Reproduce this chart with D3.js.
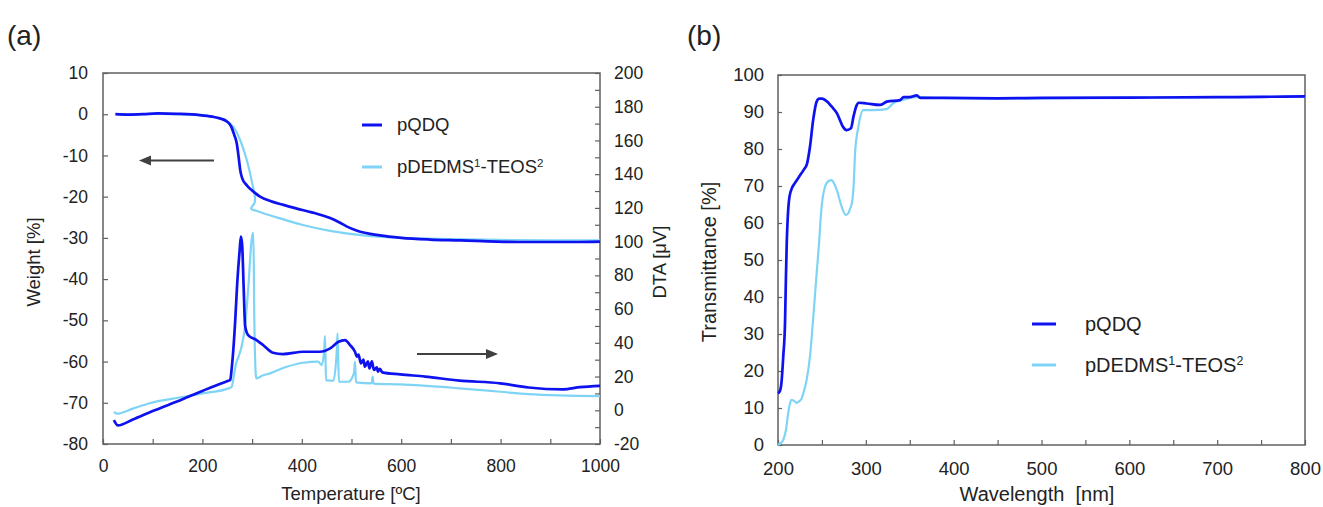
<!DOCTYPE html>
<html><head><meta charset="utf-8">
<script src="https://cdn.jsdelivr.net/npm/d3@7"></script>
<style>
html,body{margin:0;padding:0;background:#fff;}
svg{display:block;font-family:"Liberation Sans",Arial,sans-serif;}
</style></head>
<body>
<svg id="c" width="1323" height="507"></svg>
<script>
// ---------- DATA ----------
const seriesNames = ["pQDQ", "pDEDMS"];
// (a) TGA weight curves
const tgaTempQ   = [25,50,80,110,150,195,220,235,250,258,264,269,273,276,280,289,300,316,340,363,390,420,457,475,490,510,557,600,658,720,792,850,900,950,1000];
const tgaWeightQ = [0,-0.1,0,0.2,0.1,-0.2,-0.6,-1,-1.8,-3,-5,-7,-10.5,-13.5,-15.5,-17.2,-18.5,-20,-21.2,-22,-22.9,-23.8,-25.2,-26.2,-27.2,-28.2,-29.4,-30,-30.4,-30.6,-30.9,-31,-31,-31,-30.9];
const tgaTempD   = [25,80,110,150,200,230,250,262,275,289,299,304,306,305,298,310,324,360,400,457,524,600,700,800,900,1000];
const tgaWeightD = [0,0,0.1,0,-0.3,-0.8,-1.8,-3,-6,-11,-16,-19,-20.5,-21.5,-22.9,-23.5,-24.1,-25.4,-26.8,-28.3,-29.4,-30,-30.3,-30.5,-30.6,-30.6];
// (a) DTA curves
const dtaTempQ = [22,30,60,100,160,200,239,252,256,259,262,266,270,275,277.5,280,283,286,292,309,322,342,362,403,436,457,474,487,497,507,511,514,519,524,527,533,536,541,545,551,553,557,562,598,648,717,799,856,925,960,1000];
const dtaQ     = [-5.8,-9,-5.5,-0.5,6.5,11.5,16,17.5,18,25,35,53,75,95,103,98,73,50,44.6,41.6,38.7,34.1,33.3,34.7,34.7,36.7,40.6,41.6,38.7,34.7,31.8,33,27.8,30,25.8,29,24.8,29,23.9,25.5,22.9,24.5,22.5,21.3,20,17.6,16,13.5,12.4,13.7,14.5];
const dtaTempD = [22,28,60,94,163,200,253,259,263,268,273,279,285.7,292.4,299,302.5,304.5,307.8,309,320,336,369.6,403,433,440,445,446.7,448.7,463.4,470.5,472,474.6,493.6,505,507,509,540.6,542.6,544.5,598,717,799,856,1000];
const dtaD     = [-1,-2,1,4.2,8,10,13,14,20,28,32,38,49.6,73,101,105.3,53.5,20,18.9,20.5,21.9,25.8,28.2,28.8,26.8,35,44,17.9,17.5,36,45.6,16.9,16.9,22,28.8,16.5,16,20,15.8,15.3,13,11,9.6,8.4];
// (b) Transmittance
const wlQ    = [200,202,204,206,208,209,210,211,213,216,219,224,229,233,236.4,240,244,247,250,255,261,267,274,278,283,286,289,292,301,316,324,339,343,350,358,362,388,450,500,600,700,750,800];
const transQ = [14,14.5,17,24,33,45,55,61,67,69.5,70.7,72.5,74.3,76,80.6,87.8,92.8,93.6,93.6,93,91.5,89.7,86,85.1,85.6,88.8,91.5,92.5,92.3,91.9,92.8,93.2,94,94,94.5,93.8,93.8,93.7,93.8,93.9,94,94.1,94.2];
const wlD    = [200,203,206,209,211.6,215,218,221,224,227,230,232.6,236.4,240.2,244,247,249,253.5,258,261,264,266.8,272.5,277,280,282,284.7,286.5,287.7,291.5,297.2,308.6,323.8,331.4,342.8,355,388,450,500,600,700,800];
const transD = [0,0.5,1.4,4,8.6,12.2,12,11.4,11.8,12.6,15,17.6,23.9,34.7,46.4,55.4,62.6,69.8,71.4,71.6,70.6,69,64.4,62.2,62.6,63.8,66.2,72,78.8,86,90.5,90.5,90.8,92.4,93.3,94,93.8,93.7,93.7,93.9,94,94.1];
// ticks
const tempTicks = [0,200,400,600,800,1000];
const weightTicks = [10,0,-10,-20,-30,-40,-50,-60,-70,-80];
const dtaTicks = [200,180,160,140,120,100,80,60,40,20,0,-20];
const wlTicks = [200,300,400,500,600,700,800];
const transTicks = [0,10,20,30,40,50,60,70,80,90,100];

const colQ = "#0d12ee", colD = "#7fd4f6";
const axisCol = "#606060", textCol = "#222";

const svg = d3.select("#c");
const zip = (a,b) => a.map((v,i)=>[v,b[i]]);

// ---------- PANEL (a) ----------
const xA = d3.scaleLinear().domain([0,1000]).range([103,600]);
const yW = d3.scaleLinear().domain([-80,10]).range([444,73]);
const yT = d3.scaleLinear().domain([-20,200]).range([444,73]);

function frame(x0,x1,y0,y1){
  svg.append("rect").attr("x",x0).attr("y",y0).attr("width",x1-x0).attr("height",y1-y0)
    .attr("fill","none").attr("stroke",axisCol).attr("stroke-width",1.5);
}
function styleAxis(g,fs){
  g.select(".domain").remove();
  g.selectAll(".tick line").attr("stroke",axisCol).attr("stroke-width",1.2);
  g.selectAll(".tick text").attr("fill",textCol).attr("font-size",fs).attr("font-family","Liberation Sans, Arial, sans-serif");
}
frame(103,600,73,444);
let g = svg.append("g").attr("transform","translate(0,444)")
  .call(d3.axisBottom(xA).tickValues(d3.range(0,1001,100)).tickSizeInner(-5).tickSizeOuter(0)
        .tickPadding(16).tickFormat(d=>tempTicks.includes(d)?d:""));
styleAxis(g,17.5);
g = svg.append("g").attr("transform","translate(103,0)")
  .call(d3.axisLeft(yW).tickValues(weightTicks).tickSizeInner(-5).tickSizeOuter(0).tickPadding(15).tickFormat(d=>String(d)));
styleAxis(g,17.5);
g = svg.append("g").attr("transform","translate(600,0)")
  .call(d3.axisRight(yT).tickValues(d3.range(-20,201,10)).tickSizeInner(-5).tickSizeOuter(0).tickPadding(14)
        .tickFormat(d=>dtaTicks.includes(d)?String(d):""));
styleAxis(g,17.5);

const lineA_W = d3.line().x(d=>xA(d[0])).y(d=>yW(d[1])).curve(d3.curveCatmullRom.alpha(0.5));
const lineA_Wm = d3.line().x(d=>xA(d[0])).y(d=>yW(d[1])).curve(d3.curveMonotoneX);
const lineA_T = d3.line().x(d=>xA(d[0])).y(d=>yT(d[1])).curve(d3.curveMonotoneX);
svg.append("path").attr("d",lineA_W(zip(tgaTempD,tgaWeightD))).attr("fill","none").attr("stroke",colD).attr("stroke-width",2.2);
svg.append("path").attr("d",lineA_T(zip(dtaTempD,dtaD))).attr("fill","none").attr("stroke",colD).attr("stroke-width",2.2);
svg.append("path").attr("d",lineA_Wm(zip(tgaTempQ,tgaWeightQ))).attr("fill","none").attr("stroke",colQ).attr("stroke-width",2.7);
svg.append("path").attr("d",lineA_T(zip(dtaTempQ,dtaQ))).attr("fill","none").attr("stroke",colQ).attr("stroke-width",2.7);

function arrow(x1,x2,y){
  const dir = x2>x1?1:-1;
  svg.append("line").attr("x1",x1).attr("x2",x2-dir*9).attr("y1",y).attr("y2",y).attr("stroke","#404040").attr("stroke-width",2);
  svg.append("path").attr("d",`M${x2},${y} L${x2-dir*12},${y-5} L${x2-dir*12},${y+5} Z`).attr("fill","#404040");
}
arrow(214,139,160.5);
arrow(417,498,354);

svg.append("text").attr("x",351).attr("y",500).attr("text-anchor","middle").attr("font-size",18.5).attr("fill",textCol).text("Temperature [ºC]");
svg.append("text").attr("transform","translate(40,262) rotate(-90)").attr("text-anchor","middle").attr("font-size",18.5).attr("fill",textCol).text("Weight [%]");
svg.append("text").attr("transform","translate(666,262) rotate(-90)").attr("text-anchor","middle").attr("font-size",18.5).attr("fill",textCol).text("DTA [μV]");
svg.append("text").attr("x",7).attr("y",45).attr("font-size",28).attr("fill",textCol).text("(a)");

function legend(x,y,gap,lineLen,textX,fs){
  svg.append("line").attr("x1",x).attr("x2",x+lineLen).attr("y1",y).attr("y2",y).attr("stroke",colQ).attr("stroke-width",3);
  svg.append("line").attr("x1",x).attr("x2",x+lineLen).attr("y1",y+gap).attr("y2",y+gap).attr("stroke",colD).attr("stroke-width",3);
  svg.append("text").attr("x",textX).attr("y",y).attr("dy","0.35em").attr("font-size",fs).attr("fill",textCol).text(seriesNames[0]);
  const t = svg.append("text").attr("x",textX).attr("y",y+gap).attr("dy","0.35em").attr("font-size",fs).attr("fill",textCol);
  t.append("tspan").text("pDEDMS");
  t.append("tspan").attr("font-size",fs*0.62).attr("dy","-0.55em").text("1");
  t.append("tspan").attr("dy","0.34em").text("-TEOS");
  t.append("tspan").attr("font-size",fs*0.62).attr("dy","-0.55em").text("2");
}
legend(362,125,42,20,397,18.5);

// ---------- PANEL (b) ----------
const xB = d3.scaleLinear().domain([200,800]).range([778,1305]);
const yB = d3.scaleLinear().domain([0,100]).range([445,75]);
frame(778,1305,75,445);
g = svg.append("g").attr("transform","translate(0,445)")
  .call(d3.axisBottom(xB).tickValues(d3.range(200,801,50)).tickSizeInner(-5).tickSizeOuter(0).tickPadding(17)
        .tickFormat(d=>wlTicks.includes(d)?d:""));
styleAxis(g,18.5);
g = svg.append("g").attr("transform","translate(778,0)")
  .call(d3.axisLeft(yB).tickValues(transTicks).tickSizeInner(-4).tickSizeOuter(0).tickPadding(14));
styleAxis(g,18.5);

const lineB = d3.line().x(d=>xB(d[0])).y(d=>yB(d[1])).curve(d3.curveMonotoneX);
svg.append("path").attr("d",lineB(zip(wlD,transD))).attr("fill","none").attr("stroke",colD).attr("stroke-width",2.2);
svg.append("path").attr("d",lineB(zip(wlQ,transQ))).attr("fill","none").attr("stroke",colQ).attr("stroke-width",2.7);

svg.append("text").attr("x",1037).attr("y",501).attr("text-anchor","middle").attr("font-size",20).attr("fill",textCol)
  .attr("xml:space","preserve").style("white-space","pre").text("Wavelength  [nm]");
svg.append("text").attr("transform","translate(716,262) rotate(-90)").attr("text-anchor","middle").attr("font-size",20).attr("fill",textCol).text("Transmittance [%]");
svg.append("text").attr("x",687).attr("y",45).attr("font-size",28).attr("fill",textCol).text("(b)");
legend(1032,324,41,24,1085,20);
</script>
</body></html>
